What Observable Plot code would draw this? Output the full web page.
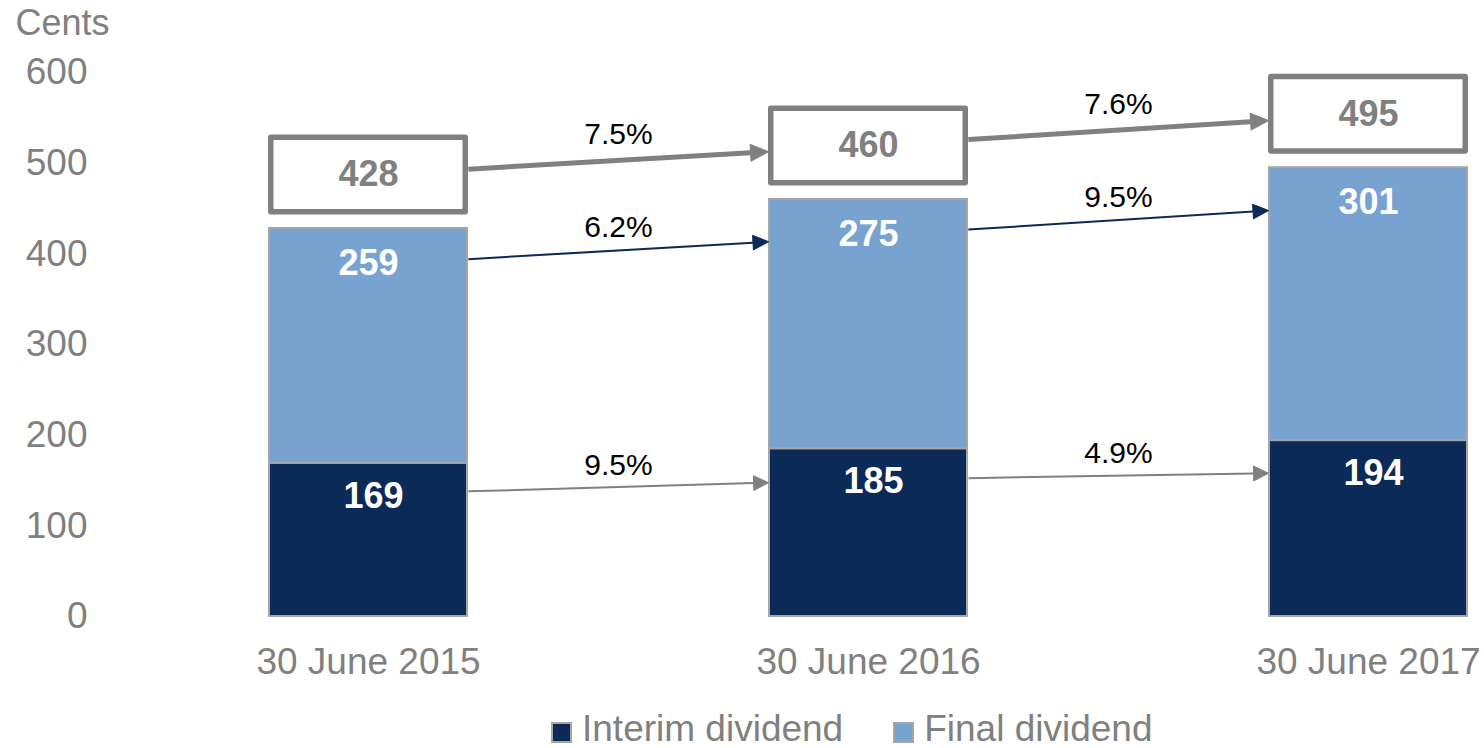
<!DOCTYPE html>
<html>
<head>
<meta charset="utf-8">
<script src="https://cdn.jsdelivr.net/npm/d3@7"></script>
<script src="https://cdn.jsdelivr.net/npm/@observablehq/plot@0.6"></script>
<style>
  body { margin: 0; background: #fff; font-family: "Liberation Sans", Arial, sans-serif; }
  #wrap { position: relative; width: 1484px; height: 748px; overflow: hidden; }
  #legend { position: absolute; left: 551px; top: 710px; display: flex; align-items: center; font-size: 37px; line-height: 37px; color: #808080; }
  .item { display: flex; align-items: center; margin-right: 50px; }
  .sw { width: 17px; height: 17px; border: 2px solid #a6a6a6; margin-right: 10px; margin-top: 8px; }
</style>
</head>
<body>
<div id="wrap"></div>
<script>
// ---- data ----
const years = ["30 June 2015", "30 June 2016", "30 June 2017"];
const interim = [169, 185, 194];
const finalDiv = [259, 275, 301];
const totals = [428, 460, 495];
const totalGrowth = ["7.5%", "7.6%"];
const finalGrowth = ["6.2%", "9.5%"];
const interimGrowth = ["9.5%", "4.9%"];
const seriesNames = ["Interim dividend", "Final dividend"];
const seriesColors = ["#0c2a57", "#78a3d0"];
const yTicks = [0, 100, 200, 300, 400, 500, 600];

// ---- derived tables ----
const H = 700, MT = 72, MB = 84;
const k = (H - MB - MT) / 600; // px per cent
const px = p => p / k;          // px -> value units

const rows = years.flatMap((yr, i) => [
  {year: yr, series: seriesNames[0], value: interim[i]},
  {year: yr, series: seriesNames[1], value: finalDiv[i]}
]);
const interimLbl = years.map((yr, i) => ({year: yr, top: interim[i], label: String(interim[i])}));
const finalLbl = years.map((yr, i) => ({year: yr, top: interim[i] + finalDiv[i], label: String(finalDiv[i])}));
const totalRows = years.map((yr, i) => ({year: yr, total: totals[i], label: String(totals[i])}));

const arrowRows = (vals, offPx, labels) => labels.map((lab, i) => ({
  x1: years[i], x2: years[i + 1],
  y1: vals[i] + px(offPx), y2: vals[i + 1] + px(offPx), label: lab
}));
const totA = arrowRows(totals, 53.5, totalGrowth);
const finA = arrowRows(totals, -36.5, finalGrowth);
const intA = arrowRows(interim, -31, interimGrowth);

const grey = "#808080";
const navy = seriesColors[0];

const chart = Plot.plot({
  width: 1484,
  height: H,
  marginTop: MT,
  marginBottom: MB,
  marginLeft: 100,
  marginRight: 16,
  style: {fontFamily: '"Liberation Sans", Arial, sans-serif', background: "white", overflow: "visible"},
  x: {type: "band", domain: years, range: [268, 1468], paddingInner: 0.6, paddingOuter: 0, label: null},
  y: {domain: [0, 600], label: null},
  color: {domain: seriesNames, range: seriesColors},
  marks: [
    Plot.axisY({ticks: yTicks, tickSize: 0, tickPadding: 13, fontSize: 37, fill: grey, label: null}),
    Plot.axisX({tickSize: 0, tickPadding: 31, fontSize: 37, fill: grey, label: null}),
    Plot.text(["Cents"], {frameAnchor: "top-left", dx: -85, dy: -49, lineAnchor: "middle", textAnchor: "start", fontSize: 36, fill: grey}),
    Plot.barY(rows, {x: "year", y: "value", fill: "series", stroke: "#a6a6a6", strokeWidth: 2, insetLeft: 1, insetRight: 1}),
    Plot.text(interimLbl, {x: "year", y: "top", text: "label", dx: 5, dy: 33, fill: "white", fontWeight: "bold", fontSize: 36}),
    Plot.text(finalLbl, {x: "year", y: "top", text: "label", dy: 35, fill: "white", fontWeight: "bold", fontSize: 36}),
    Plot.barY(totalRows, {
      x: "year", y1: d => d.total + px(16.25), y2: d => d.total + px(90.75),
      fill: "white", stroke: grey, strokeWidth: 5.5, strokeLinejoin: "round", insetLeft: 2.75, insetRight: 2.75
    }),
    Plot.text(totalRows, {x: "year", y: d => d.total + px(53.5), text: "label", fill: grey, fontWeight: "bold", fontSize: 36}),
    Plot.arrow(totA, {x1: "x1", y1: "y1", x2: "x2", y2: "y2", stroke: grey, strokeWidth: 5, strokeLinecap: "butt", headLength: 6, headAngle: 50, insetStart: 100, insetEnd: 100}),
    Plot.arrow(finA, {x1: "x1", y1: "y1", x2: "x2", y2: "y2", stroke: navy, strokeWidth: 2, strokeLinecap: "butt", headLength: 13, headAngle: 50, insetStart: 100, insetEnd: 100}),
    Plot.arrow(intA, {x1: "x1", y1: "y1", x2: "x2", y2: "y2", stroke: grey, strokeWidth: 2, strokeLinecap: "butt", headLength: 12.5, headAngle: 53, insetStart: 100, insetEnd: 100}),
    Plot.text(totA, {x: "x1", y: d => (d.y1 + d.y2) / 2, text: "label", dx: 250, dy: -26, fill: "black", fontSize: 30}),
    Plot.text(finA, {x: "x1", y: d => (d.y1 + d.y2) / 2, text: "label", dx: 250, dy: -23, fill: "black", fontSize: 30}),
    Plot.text(intA, {x: "x1", y: d => (d.y1 + d.y2) / 2, text: "label", dx: 250, dy: -22, fill: "black", fontSize: 30})
  ]
});

const wrap = document.getElementById("wrap");
wrap.appendChild(chart);

// turn each arrowhead (the open V drawn by Plot) into a filled triangle
const num = /-?(?:\d+\.?\d*|\.\d+)(?:e[-+]?\d+)?/gi;
d3.select(chart).selectAll('g[aria-label="arrow"] path').each(function () {
  const d = this.getAttribute("d") || "";
  const subs = d.split(/(?=M)/).filter(s => s.trim().length);
  if (subs.length < 2) return;
  const head = (subs[subs.length - 1].match(num) || []).map(Number);
  if (head.length < 6) return;
  const [x3, y3, xt, yt, x4, y4] = head;
  const color = getComputedStyle(this).stroke;
  // shaft: stop at the base of the head
  const mx = (x3 + x4) / 2, my = (y3 + y4) / 2;
  const shaft = (subs[0].match(num) || []).map(Number);
  if (shaft.length === 4) this.setAttribute("d", `M${shaft[0]},${shaft[1]}L${mx},${my}`);
  else this.setAttribute("d", subs.slice(0, -1).join(""));
  const tri = document.createElementNS("http://www.w3.org/2000/svg", "path");
  tri.setAttribute("d", `M${x3},${y3}L${xt},${yt}L${x4},${y4}Z`);
  tri.setAttribute("fill", color);
  tri.setAttribute("stroke", color);
  tri.setAttribute("stroke-width", "1");
  tri.setAttribute("stroke-linejoin", "miter");
  this.parentNode.appendChild(tri);
});

// legend
const legend = document.createElement("div");
legend.id = "legend";
seriesNames.forEach((name, i) => {
  const item = document.createElement("div");
  item.className = "item";
  const sw = document.createElement("span");
  sw.className = "sw";
  sw.style.background = seriesColors[i];
  const t = document.createElement("span");
  t.textContent = name;
  item.appendChild(sw);
  item.appendChild(t);
  legend.appendChild(item);
});
wrap.appendChild(legend);
</script>
</body>
</html>
